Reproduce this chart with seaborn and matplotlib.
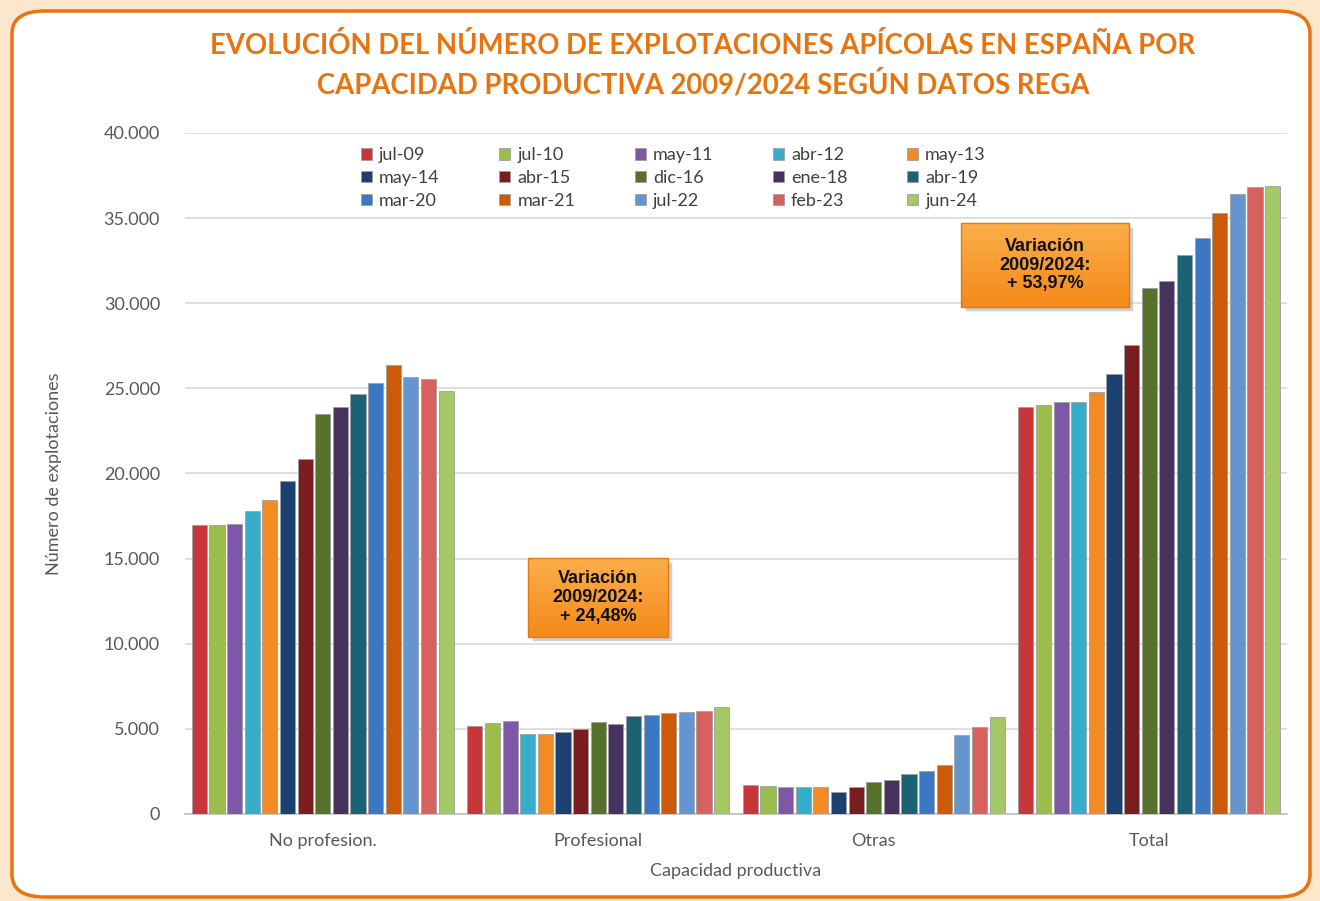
import pandas as pd
import numpy as np
import matplotlib.pyplot as plt
import seaborn as sns
from matplotlib.patches import FancyBboxPatch, Rectangle
from matplotlib.ticker import FuncFormatter

# Datos
categorias = ['No profesion.', 'Profesional', 'Otras', 'Total']
fechas = ['jul-09', 'jul-10', 'may-11', 'abr-12', 'may-13',
          'may-14', 'abr-15', 'dic-16', 'ene-18', 'abr-19',
          'mar-20', 'mar-21', 'jul-22', 'feb-23', 'jun-24']

no_profesion = [16975, 16970, 17030, 17800, 18460, 19580, 20870, 23490,
                23890, 24670, 25340, 26370, 25650, 25570, 24860]
profesional = [5150, 5345, 5480, 4700, 4700, 4815, 5010, 5420,
               5285, 5755, 5815, 5950, 6010, 6070, 6265]
otras = [1685, 1625, 1565, 1565, 1565, 1310, 1565, 1900,
         1975, 2350, 2545, 2880, 4640, 5090, 5680]
total = [23890, 24020, 24220, 24220, 24810, 25840, 27550, 30880,
         31330, 32830, 33810, 35280, 36420, 36810, 36890]

colores = ['#C8363A', '#9BBE4A', '#7E58A6', '#36AECB', '#F38A24',
           '#1C4170', '#7A1D1F', '#56712A', '#47325E', '#1B6275',
           '#3A78C4', '#CC5A08', '#6595D0', '#D6615F', '#A5C866']

titulo = ('EVOLUCIÓN DEL NÚMERO DE EXPLOTACIONES APÍCOLAS EN ESPAÑA POR\n'
          'CAPACIDAD PRODUCTIVA 2009/2024 SEGÚN DATOS REGA')

filas = []
for cat, vals in zip(categorias, [no_profesion, profesional, otras, total]):
    for f, v in zip(fechas, vals):
        filas.append({'Capacidad': cat, 'Fecha': f, 'Valor': v})
df = pd.DataFrame(filas)

sns.set_style('white')
plt.rcParams['font.family'] = ['Lato', 'DejaVu Sans']

fig = plt.figure(figsize=(13.2, 9.01), dpi=100)
fig.patch.set_facecolor('#FDE7CC')

# Marco blanco redondeado con borde naranja
marco = FancyBboxPatch((12 / 1320, 4 / 901), 1298 / 1320, 886 / 901,
                       boxstyle='round,pad=0,rounding_size=0.025',
                       transform=fig.transFigure, facecolor='white',
                       edgecolor='#E8740F', linewidth=2.5, zorder=-5)
fig.patches.append(marco)

ax = fig.add_axes([185 / 1320, (901 - 814) / 901, 1102 / 1320, 681 / 901])
ax.set_facecolor('white')

sns.barplot(data=df, x='Capacidad', y='Valor', hue='Fecha', palette=colores,
            saturation=1, width=0.96, gap=0.14, ax=ax, edgecolor='#A0A0A0',
            linewidth=0.6, zorder=3)

ax.set_yticks(np.arange(0, 40001, 5000))
ax.yaxis.set_major_formatter(FuncFormatter(lambda v, p: f'{int(v):,}'.replace(',', '.')))
ax.grid(axis='y', color='#D9D9D9', linewidth=1.2, zorder=0)
ax.set_axisbelow(True)
for s in ['top', 'right', 'left']:
    ax.spines[s].set_visible(False)
ax.spines['bottom'].set_color('#BFBFBF')
ax.spines['bottom'].set_linewidth(1.2)
ax.tick_params(axis='both', length=0, labelsize=13, colors='#595959')
ax.tick_params(axis='y', pad=18)
ax.tick_params(axis='x', pad=14)
ax.set_xlabel('Capacidad productiva', fontsize=13, color='#595959', labelpad=10)
ax.set_ylabel('Número de explotaciones', fontsize=13, color='#595959', labelpad=30)

# Leyenda en filas
handles, labels = ax.get_legend_handles_labels()
orden = [r * 5 + c for c in range(5) for r in range(3)]
ax.legend([handles[i] for i in orden], [labels[i] for i in orden],
          ncol=5, loc='upper left', bbox_to_anchor=(0.145, 1.003),
          frameon=False, fontsize=13, handlelength=0.6, handleheight=0.6,
          handletextpad=0.4, columnspacing=3.3, labelspacing=0.38,
          labelcolor='#404040')

# Cuadros de variación
cuadros = [((0.3113, 0.2599), 0.1270, 0.1160, 'Variación\n2009/2024:\n+ 24,48%'),
           ((0.7042, 0.7445), 0.1524, 0.1233, 'Variación\n2009/2024:\n+ 53,97%')]
for (x0, y0), w, h, txt in cuadros:
    ax.add_patch(Rectangle((x0 + 0.004, y0 - 0.006), w, h, transform=ax.transAxes,
                           facecolor='#9A9A9A', alpha=0.5, zorder=5))
    grad = np.linspace(0, 1, 50).reshape(-1, 1)
    ax.imshow(grad, extent=(x0, x0 + w, y0, y0 + h), transform=ax.transAxes,
              cmap=sns.blend_palette(['#F48A1A', '#FBAE4A'], as_cmap=True),
              aspect='auto', zorder=6, origin='lower')
    ax.add_patch(Rectangle((x0, y0), w, h, transform=ax.transAxes,
                           facecolor='none', edgecolor='#E07A12', linewidth=1.0, zorder=7))
    ax.text(x0 + w / 2, y0 + h / 2, txt, transform=ax.transAxes, ha='center',
            va='center', fontsize=13, fontweight='bold', color='#111111',
            family=['Liberation Sans', 'DejaVu Sans'], linespacing=1.15, zorder=8)
ax.set_xlim(-0.5, 3.5)
ax.set_ylim(0, 40000)

fig.text(703 / 1320, 1 - 65 / 901, titulo, ha='center', va='center',
         fontsize=19.8, fontweight='bold', color='#E8740F', linespacing=1.45)

fig.savefig('out.png', dpi=100, facecolor=fig.get_facecolor())
